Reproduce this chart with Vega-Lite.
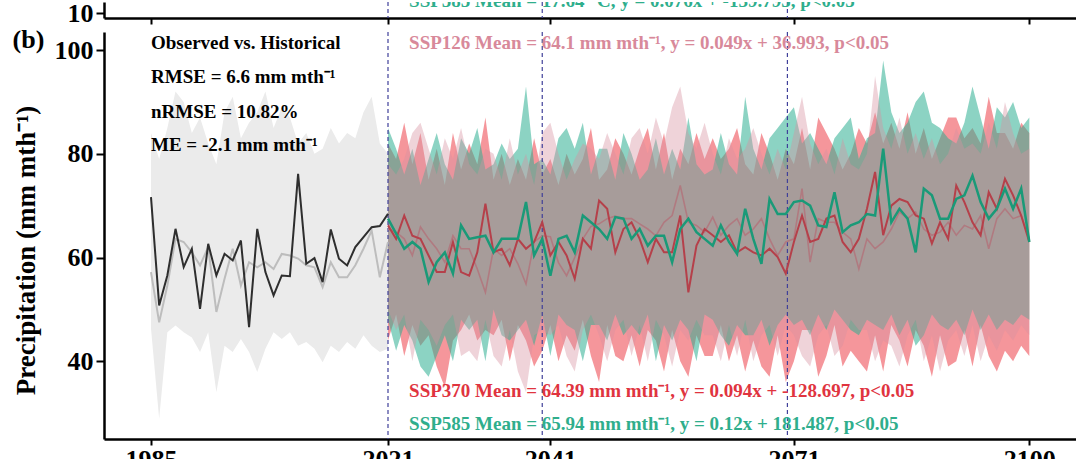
{
  "$schema": "https://vega.github.io/schema/vega-lite/v6.json",
  "background": "white",
  "padding": {"left": 12, "top": 0, "right": 0, "bottom": 0},
  "bounds": "flush",
  "spacing": 14,
  "config": {
    "font": "Liberation Serif",
    "view": {"stroke": null},
    "axis": {
      "grid": false,
      "domainColor": "black",
      "domainWidth": 2.5,
      "tickColor": "black",
      "tickWidth": 2,
      "labelColor": "black",
      "labelFont": "Liberation Serif",
      "labelFontWeight": "bold",
      "labelFontSize": 26,
      "labelOverlap": false,
      "labelFlush": false,
      "titleFont": "Liberation Serif",
      "titleFontWeight": "bold",
      "titleColor": "black"
    }
  },
  "datasets": {
    "breaks": [{"year": 2021}, {"year": 2040}, {"year": 2070.2}],
    "hist": [
      {"year": 1985, "obs": 71.65, "hist": 57.2, "lo": 46.3, "hi": 84},
      {"year": 1986, "obs": 50.76, "hist": 47.5, "lo": 28.9, "hi": 79},
      {"year": 1987, "obs": 56.54, "hist": 54.6, "lo": 45.6, "hi": 85},
      {"year": 1988, "obs": 65.54, "hist": 63.6, "lo": 46.9, "hi": 92},
      {"year": 1989, "obs": 58.15, "hist": 63.0, "lo": 45.6, "hi": 90},
      {"year": 1990, "obs": 61.69, "hist": 61.0, "lo": 44.6, "hi": 84},
      {"year": 1991, "obs": 50.12, "hist": 58.5, "lo": 41.8, "hi": 87},
      {"year": 1992, "obs": 62.65, "hist": 62.0, "lo": 45.6, "hi": 82},
      {"year": 1993, "obs": 56.54, "hist": 49.5, "lo": 34.0, "hi": 78},
      {"year": 1994, "obs": 60.72, "hist": 55.9, "lo": 43.0, "hi": 88},
      {"year": 1995, "obs": 59.44, "hist": 61.7, "lo": 41.8, "hi": 91},
      {"year": 1996, "obs": 63.29, "hist": 54.6, "lo": 44.3, "hi": 83},
      {"year": 1997, "obs": 46.58, "hist": 59.1, "lo": 41.8, "hi": 86},
      {"year": 1998, "obs": 65.54, "hist": 58.1, "lo": 37.9, "hi": 88},
      {"year": 1999, "obs": 57.19, "hist": 59.1, "lo": 42.4, "hi": 92},
      {"year": 2000, "obs": 52.69, "hist": 57.8, "lo": 45.6, "hi": 85},
      {"year": 2001, "obs": 56.54, "hist": 60.7, "lo": 44.3, "hi": 89},
      {"year": 2002, "obs": 56.41, "hist": 60.4, "lo": 45.6, "hi": 87},
      {"year": 2003, "obs": 76.15, "hist": 59.8, "lo": 43.0, "hi": 82},
      {"year": 2004, "obs": 58.79, "hist": 58.5, "lo": 43.7, "hi": 84},
      {"year": 2005, "obs": 59.89, "hist": 58.1, "lo": 42.4, "hi": 80},
      {"year": 2006, "obs": 55.26, "hist": 54.3, "lo": 39.8, "hi": 81},
      {"year": 2007, "obs": 65.41, "hist": 59.1, "lo": 43.0, "hi": 85},
      {"year": 2008, "obs": 59.76, "hist": 56.2, "lo": 41.8, "hi": 82},
      {"year": 2009, "obs": 58.47, "hist": 56.2, "lo": 43.7, "hi": 84},
      {"year": 2010, "obs": 62.01, "hist": 58.5, "lo": 42.4, "hi": 83},
      {"year": 2011, "obs": 63.94, "hist": 61.7, "lo": 45.0, "hi": 88},
      {"year": 2012, "obs": 65.86, "hist": 65.2, "lo": 43.0, "hi": 91},
      {"year": 2013, "obs": 66.06, "hist": 56.2, "lo": 41.8, "hi": 82},
      {"year": 2014, "obs": 68.44, "hist": 63.0, "lo": 42.4, "hi": 80}
    ],
    "fut": [
      {"year":2021,"m126":65.5,"m370":66.2,"m585":67.5,"lo126":50,"hi126":78,"lo370":44,"hi370":82,"lo585":48,"hi585":85},
      {"year":2022,"m126":64.9,"m370":63.6,"m585":64.6,"lo126":46,"hi126":76,"lo370":49,"hi370":79,"lo585":42,"hi585":81},
      {"year":2023,"m126":63.6,"m370":68.1,"m585":61.7,"lo126":49,"hi126":79,"lo370":41,"hi370":86,"lo585":47,"hi585":76},
      {"year":2024,"m126":60.4,"m370":64.2,"m585":63.0,"lo126":40,"hi126":84,"lo370":47,"hi370":78,"lo585":44,"hi585":81},
      {"year":2025,"m126":65.9,"m370":63.6,"m585":61.7,"lo126":48,"hi126":86,"lo370":43,"hi370":84,"lo585":39,"hi585":74},
      {"year":2026,"m126":63.6,"m370":60.4,"m585":55.3,"lo126":46,"hi126":81,"lo370":45,"hi370":75,"lo585":37,"hi585":79},
      {"year":2027,"m126":61.7,"m370":57.2,"m585":59.1,"lo126":43,"hi126":76,"lo370":39,"hi370":81,"lo585":41,"hi585":84},
      {"year":2028,"m126":59.1,"m370":57.2,"m585":61.0,"lo126":47,"hi126":83,"lo370":35,"hi370":74,"lo585":45,"hi585":78},
      {"year":2029,"m126":64.2,"m370":63.0,"m585":56.9,"lo126":49,"hi126":79,"lo370":44,"hi370":84,"lo585":40,"hi585":75},
      {"year":2030,"m126":61.7,"m370":57.2,"m585":66.2,"lo126":41,"hi126":85,"lo370":46,"hi370":77,"lo585":48,"hi585":83},
      {"year":2031,"m126":61.7,"m370":56.5,"m585":63.6,"lo126":42,"hi126":78,"lo370":49,"hi370":82,"lo585":46,"hi585":80},
      {"year":2032,"m126":57.8,"m370":61.0,"m585":63.9,"lo126":40,"hi126":76,"lo370":44,"hi370":78,"lo585":48,"hi585":85},
      {"year":2033,"m126":53.3,"m370":70.4,"m585":64.2,"lo126":48,"hi126":81,"lo370":46,"hi370":87,"lo585":40,"hi585":77},
      {"year":2034,"m126":61.7,"m370":61.0,"m585":61.0,"lo126":41,"hi126":80,"lo370":45,"hi370":75,"lo585":50,"hi585":78},
      {"year":2035,"m126":60.4,"m370":61.7,"m585":63.6,"lo126":39,"hi126":75,"lo370":48,"hi370":80,"lo585":45,"hi585":82},
      {"year":2036,"m126":61.7,"m370":58.5,"m585":63.6,"lo126":46,"hi126":83,"lo370":40,"hi370":74,"lo585":44,"hi585":79},
      {"year":2037,"m126":58.8,"m370":63.6,"m585":63.6,"lo126":38,"hi126":76,"lo370":47,"hi370":79,"lo585":46,"hi585":81},
      {"year":2038,"m126":54.9,"m370":61.7,"m585":70.7,"lo126":34,"hi126":80,"lo370":44,"hi370":75,"lo585":48,"hi585":93},
      {"year":2039,"m126":63.0,"m370":63.0,"m585":60.4,"lo126":45,"hi126":74,"lo370":39,"hi370":83,"lo585":43,"hi585":78},
      {"year":2040,"m126":64.2,"m370":66.8,"m585":63.6,"lo126":46,"hi126":84,"lo370":42,"hi370":76,"lo585":49,"hi585":79},
      {"year":2041,"m126":64.0,"m370":60.4,"m585":56.5,"lo126":45,"hi126":86,"lo370":47,"hi370":79,"lo585":41,"hi585":76},
      {"year":2042,"m126":59.0,"m370":63.0,"m585":63.6,"lo126":47,"hi126":80,"lo370":40,"hi370":74,"lo585":49,"hi585":83},
      {"year":2043,"m126":56.5,"m370":60.4,"m585":64.2,"lo126":41,"hi126":75,"lo370":45,"hi370":80,"lo585":47,"hi585":85},
      {"year":2044,"m126":60.0,"m370":55.9,"m585":61.0,"lo126":38,"hi126":79,"lo370":42,"hi370":76,"lo585":46,"hi585":81},
      {"year":2045,"m126":63.6,"m370":63.6,"m585":68.1,"lo126":46,"hi126":82,"lo370":48,"hi370":79,"lo585":40,"hi585":86},
      {"year":2046,"m126":66.0,"m370":61.7,"m585":66.8,"lo126":49,"hi126":81,"lo370":41,"hi370":85,"lo585":47,"hi585":76},
      {"year":2047,"m126":66.5,"m370":71.0,"m585":65.5,"lo126":45,"hi126":79,"lo370":36,"hi370":75,"lo585":47,"hi585":81},
      {"year":2048,"m126":67.5,"m370":69.4,"m585":63.6,"lo126":40,"hi126":84,"lo370":47,"hi370":77,"lo585":44,"hi585":81},
      {"year":2049,"m126":68.0,"m370":61.0,"m585":67.8,"lo126":46,"hi126":80,"lo370":41,"hi370":83,"lo585":49,"hi585":75},
      {"year":2050,"m126":67.5,"m370":65.5,"m585":67.5,"lo126":48,"hi126":76,"lo370":40,"hi370":80,"lo585":45,"hi585":84},
      {"year":2051,"m126":67.5,"m370":66.8,"m585":63.6,"lo126":41,"hi126":83,"lo370":45,"hi370":76,"lo585":47,"hi585":80},
      {"year":2052,"m126":66.5,"m370":63.6,"m585":65.5,"lo126":47,"hi126":85,"lo370":39,"hi370":81,"lo585":45,"hi585":75},
      {"year":2053,"m126":65.5,"m370":59.1,"m585":62.3,"lo126":40,"hi126":80,"lo370":46,"hi370":85,"lo585":49,"hi585":77},
      {"year":2054,"m126":64.2,"m370":63.6,"m585":64.2,"lo126":48,"hi126":87,"lo370":44,"hi370":77,"lo585":40,"hi585":83},
      {"year":2055,"m126":66.8,"m370":61.0,"m585":64.2,"lo126":45,"hi126":82,"lo370":38,"hi370":84,"lo585":47,"hi585":76},
      {"year":2056,"m126":68.1,"m370":61.0,"m585":59.1,"lo126":39,"hi126":89,"lo370":46,"hi370":75,"lo585":44,"hi585":81},
      {"year":2057,"m126":73.9,"m370":68.1,"m585":65.5,"lo126":46,"hi126":93,"lo370":40,"hi370":81,"lo585":48,"hi585":77},
      {"year":2058,"m126":66.8,"m370":53.3,"m585":67.5,"lo126":44,"hi126":84,"lo370":37,"hi370":78,"lo585":46,"hi585":87},
      {"year":2059,"m126":66.2,"m370":62.3,"m585":64.9,"lo126":48,"hi126":81,"lo370":45,"hi370":84,"lo585":40,"hi585":78},
      {"year":2060,"m126":64.9,"m370":65.5,"m585":63.6,"lo126":45,"hi126":86,"lo370":41,"hi370":79,"lo585":49,"hi585":76},
      {"year":2061,"m126":67.8,"m370":64.3,"m585":62.3,"lo126":45,"hi126":80,"lo370":41,"hi370":83,"lo585":48,"hi585":77},
      {"year":2062,"m126":64.3,"m370":63.0,"m585":66.2,"lo126":40,"hi126":76,"lo370":47,"hi370":79,"lo585":45,"hi585":84},
      {"year":2063,"m126":66.2,"m370":64.3,"m585":63.0,"lo126":47,"hi126":83,"lo370":40,"hi370":81,"lo585":43,"hi585":78},
      {"year":2064,"m126":67.5,"m370":61.0,"m585":60.7,"lo126":41,"hi126":79,"lo370":45,"hi370":85,"lo585":47,"hi585":76},
      {"year":2065,"m126":64.3,"m370":62.0,"m585":69.4,"lo126":48,"hi126":81,"lo370":38,"hi370":78,"lo585":45,"hi585":91},
      {"year":2066,"m126":65.5,"m370":61.0,"m585":63.6,"lo126":40,"hi126":85,"lo370":44,"hi370":76,"lo585":45,"hi585":81},
      {"year":2067,"m126":67.5,"m370":60.4,"m585":58.8,"lo126":45,"hi126":80,"lo370":39,"hi370":84,"lo585":48,"hi585":77},
      {"year":2068,"m126":63.6,"m370":61.7,"m585":71.3,"lo126":47,"hi126":76,"lo370":37,"hi370":80,"lo585":43,"hi585":83},
      {"year":2069,"m126":60.4,"m370":60.1,"m585":68.4,"lo126":41,"hi126":81,"lo370":45,"hi370":75,"lo585":47,"hi585":85},
      {"year":2070,"m126":63.0,"m370":56.9,"m585":68.4,"lo126":47,"hi126":77,"lo370":36,"hi370":81,"lo585":49,"hi585":87},
      {"year":2071,"m126":63.6,"m370":63.0,"m585":70.7,"lo126":45,"hi126":84,"lo370":40,"hi370":78,"lo585":47,"hi585":89},
      {"year":2072,"m126":73.3,"m370":68.1,"m585":71.0,"lo126":41,"hi126":91,"lo370":46,"hi370":85,"lo585":48,"hi585":82},
      {"year":2073,"m126":59.1,"m370":63.0,"m585":70.0,"lo126":39,"hi126":82,"lo370":46,"hi370":77,"lo585":45,"hi585":84},
      {"year":2074,"m126":67.5,"m370":63.6,"m585":66.2,"lo126":45,"hi126":78,"lo370":37,"hi370":87,"lo585":49,"hi585":81},
      {"year":2075,"m126":66.8,"m370":67.5,"m585":65.9,"lo126":47,"hi126":81,"lo370":41,"hi370":84,"lo585":46,"hi585":78},
      {"year":2076,"m126":66.8,"m370":68.1,"m585":72.6,"lo126":41,"hi126":76,"lo370":47,"hi370":81,"lo585":50,"hi585":83},
      {"year":2077,"m126":64.9,"m370":63.0,"m585":64.9,"lo126":43,"hi126":83,"lo370":39,"hi370":77,"lo585":48,"hi585":85},
      {"year":2078,"m126":63.6,"m370":61.0,"m585":66.2,"lo126":48,"hi126":78,"lo370":42,"hi370":80,"lo585":46,"hi585":87},
      {"year":2079,"m126":57.8,"m370":63.6,"m585":66.8,"lo126":46,"hi126":77,"lo370":40,"hi370":85,"lo585":45,"hi585":79},
      {"year":2080,"m126":63.6,"m370":69.4,"m585":68.4,"lo126":46,"hi126":80,"lo370":38,"hi370":82,"lo585":48,"hi585":83},
      {"year":2081,"m126":61.7,"m370":76.5,"m585":68.1,"lo126":40,"hi126":95,"lo370":45,"hi370":88,"lo585":47,"hi585":84},
      {"year":2082,"m126":63.0,"m370":64.3,"m585":81.0,"lo126":44,"hi126":85,"lo370":38,"hi370":82,"lo585":46,"hi585":98},
      {"year":2083,"m126":65.5,"m370":70.0,"m585":66.8,"lo126":43,"hi126":81,"lo370":47,"hi370":86,"lo585":49,"hi585":88},
      {"year":2084,"m126":68.8,"m370":71.3,"m585":69.4,"lo126":39,"hi126":87,"lo370":44,"hi370":81,"lo585":45,"hi585":84},
      {"year":2085,"m126":67.5,"m370":70.7,"m585":67.5,"lo126":45,"hi126":80,"lo370":39,"hi370":88,"lo585":48,"hi585":86},
      {"year":2086,"m126":68.8,"m370":68.1,"m585":61.0,"lo126":48,"hi126":84,"lo370":46,"hi370":80,"lo585":43,"hi585":90},
      {"year":2087,"m126":65.5,"m370":67.5,"m585":73.3,"lo126":40,"hi126":79,"lo370":43,"hi370":85,"lo585":45,"hi585":92},
      {"year":2088,"m126":64.3,"m370":62.7,"m585":72.0,"lo126":45,"hi126":83,"lo370":37,"hi370":79,"lo585":49,"hi585":86},
      {"year":2089,"m126":64.9,"m370":66.8,"m585":67.5,"lo126":38,"hi126":78,"lo370":45,"hi370":83,"lo585":47,"hi585":85},
      {"year":2090,"m126":66.8,"m370":63.6,"m585":67.5,"lo126":44,"hi126":80,"lo370":39,"hi370":87,"lo585":46,"hi585":83},
      {"year":2091,"m126":64.3,"m370":73.9,"m585":71.3,"lo126":46,"hi126":85,"lo370":40,"hi370":87,"lo585":48,"hi585":82},
      {"year":2092,"m126":66.2,"m370":70.7,"m585":72.0,"lo126":41,"hi126":81,"lo370":46,"hi370":83,"lo585":45,"hi585":86},
      {"year":2093,"m126":65.5,"m370":66.8,"m585":75.8,"lo126":47,"hi126":82,"lo370":39,"hi370":85,"lo585":50,"hi585":93},
      {"year":2094,"m126":68.1,"m370":64.3,"m585":70.7,"lo126":40,"hi126":80,"lo370":47,"hi370":82,"lo585":46,"hi585":87},
      {"year":2095,"m126":61.7,"m370":72.6,"m585":67.5,"lo126":45,"hi126":86,"lo370":41,"hi370":91,"lo585":49,"hi585":81},
      {"year":2096,"m126":67.5,"m370":69.4,"m585":69.4,"lo126":42,"hi126":81,"lo370":38,"hi370":84,"lo585":46,"hi585":89},
      {"year":2097,"m126":69.4,"m370":75.2,"m585":73.3,"lo126":46,"hi126":90,"lo370":42,"hi370":84,"lo585":48,"hi585":87},
      {"year":2098,"m126":67.5,"m370":72.0,"m585":69.4,"lo126":44,"hi126":84,"lo370":40,"hi370":81,"lo585":47,"hi585":90},
      {"year":2099,"m126":68.1,"m370":68.1,"m585":73.3,"lo126":47,"hi126":80,"lo370":43,"hi370":86,"lo585":49,"hi585":85},
      {"year":2100,"m126":63.6,"m370":63.0,"m585":63.0,"lo126":45,"hi126":81,"lo370":41,"hi370":84,"lo585":48,"hi585":87}
    ],
    "notes": [
      {"year": 1985, "value": 101.35, "label": "Observed vs. Historical", "grp": "obs"},
      {"year": 1985, "value": 94.8, "label": "RMSE = 6.6 mm mth⁻¹", "grp": "obs"},
      {"year": 1985, "value": 88.0, "label": "nRMSE = 10.82%", "grp": "obs"},
      {"year": 1985, "value": 81.7, "label": "ME = -2.1 mm mth⁻¹", "grp": "obs"},
      {"year": 2023.6, "value": 101.35, "label": "SSP126 Mean = 64.1 mm mth⁻¹, y = 0.049x + 36.993, p<0.05", "grp": "SSP126"},
      {"year": 2023.6, "value": 34.2, "label": "SSP370 Mean = 64.39 mm mth⁻¹, y = 0.094x + -128.697, p<0.05", "grp": "SSP370"},
      {"year": 2023.6, "value": 27.9, "label": "SSP585 Mean = 65.94 mm mth⁻¹, y = 0.12x + 181.487, p<0.05", "grp": "SSP585"}
    ]
  },
  "vconcat": [
    {
      "width": 972,
      "height": 16,
      "layer": [
        {
          "data": {"name": "breaks"},
          "mark": {"type": "rule", "color": "#40409a", "strokeDash": [4, 3], "strokeWidth": 1.2},
          "encoding": {
            "x": {"field": "year", "type": "quantitative",
              "scale": {"domain": [1979.25, 2014, 2021, 2105.75], "range": [0, 284, 284, 972], "nice": false, "zero": false},
              "axis": {"values": [1985, 2021, 2041, 2071, 2100], "labels": false, "title": null, "tickSize": 6}}
          }
        },
        {
          "data": {"values": [{"year": 2023.6, "value": 10.6, "label": "SSP585 Mean = 17.64 °C, y = 0.076x + -139.795, p<0.05"}]},
          "mark": {"type": "text", "clip": true, "align": "left", "baseline": "alphabetic", "fontSize": 19, "fontWeight": "bold", "color": "#2fae8c", "font": "Liberation Serif"},
          "encoding": {
            "x": {"field": "year", "type": "quantitative"},
            "y": {"field": "value", "type": "quantitative",
              "scale": {"domain": [9.5, 11.1], "nice": false, "zero": false},
              "axis": {"values": [10], "title": null, "tickSize": 8, "labelPadding": 3}},
            "text": {"field": "label"}
          }
        }
      ]
    },
    {
      "width": 972,
      "height": 407,
      "layer": [
        {
          "data": {"name": "hist"},
          "mark": {"type": "area", "color": "#ebebeb", "opacity": 1},
          "encoding": {
            "x": {"field": "year", "type": "quantitative",
              "scale": {"domain": [1979.25, 2014, 2021, 2105.75], "range": [0, 284, 284, 972], "nice": false, "zero": false},
              "axis": {"values": [1985, 2021, 2041, 2071, 2100], "format": "d", "title": null, "tickSize": 6, "labelPadding": 1}},
            "y": {"field": "lo", "type": "quantitative",
              "scale": {"domain": [25, 103.5], "nice": false, "zero": false},
              "axis": {"values": [40, 60, 80, 100], "title": "Precipitation (mm mth⁻¹)", "titleFontSize": 27, "titleX": -78, "titleY": 218, "titleBaseline": "middle", "tickSize": 8, "labelPadding": 3}},
            "y2": {"field": "hi"}
          }
        },
        {
          "data": {"name": "fut"},
          "mark": {"type": "area", "color": "#eb2d37", "opacity": 0.5},
          "encoding": {"x": {"field": "year", "type": "quantitative"}, "y": {"field": "lo370", "type": "quantitative"}, "y2": {"field": "hi370"}}
        },
        {
          "data": {"name": "fut"},
          "mark": {"type": "area", "color": "#2daf91", "opacity": 0.55},
          "encoding": {"x": {"field": "year", "type": "quantitative"}, "y": {"field": "lo585", "type": "quantitative"}, "y2": {"field": "hi585"}}
        },
        {
          "data": {"name": "fut"},
          "mark": {"type": "area", "color": "#d791a1", "opacity": 0.4},
          "encoding": {"x": {"field": "year", "type": "quantitative"}, "y": {"field": "lo126", "type": "quantitative"}, "y2": {"field": "hi126"}}
        },
        {
          "data": {"name": "breaks"},
          "mark": {"type": "rule", "color": "#40409a", "strokeDash": [4, 3], "strokeWidth": 1.2},
          "encoding": {"x": {"field": "year", "type": "quantitative"}}
        },
        {
          "data": {"name": "hist"},
          "mark": {"type": "line", "color": "#bdbdbd", "strokeWidth": 2},
          "encoding": {"x": {"field": "year", "type": "quantitative"}, "y": {"field": "hist", "type": "quantitative"}}
        },
        {
          "data": {"name": "hist"},
          "mark": {"type": "line", "color": "#2e2e2e", "strokeWidth": 2},
          "encoding": {"x": {"field": "year", "type": "quantitative"}, "y": {"field": "obs", "type": "quantitative"}}
        },
        {
          "data": {"name": "fut"},
          "mark": {"type": "line", "color": "#b07a80", "strokeWidth": 1.6},
          "encoding": {"x": {"field": "year", "type": "quantitative"}, "y": {"field": "m126", "type": "quantitative"}}
        },
        {
          "data": {"name": "fut"},
          "mark": {"type": "line", "color": "#b5404a", "strokeWidth": 2},
          "encoding": {"x": {"field": "year", "type": "quantitative"}, "y": {"field": "m370", "type": "quantitative"}}
        },
        {
          "data": {"name": "fut"},
          "mark": {"type": "line", "color": "#1a9a78", "strokeWidth": 2.5},
          "encoding": {"x": {"field": "year", "type": "quantitative"}, "y": {"field": "m585", "type": "quantitative"}}
        },
        {
          "data": {"name": "notes"},
          "mark": {"type": "text", "align": "left", "baseline": "middle", "fontSize": 19, "fontWeight": "bold", "font": "Liberation Serif"},
          "encoding": {
            "x": {"field": "year", "type": "quantitative"},
            "y": {"field": "value", "type": "quantitative"},
            "text": {"field": "label"},
            "color": {"field": "grp", "type": "nominal", "legend": null,
              "scale": {"domain": ["obs", "SSP126", "SSP370", "SSP585"], "range": ["#000000", "#d8899a", "#e0343f", "#2fae8c"]}}
          }
        },
        {
          "data": {"values": [{"year": 1970.0, "value": 101.9, "label": "(b)"}]},
          "mark": {"type": "text", "align": "center", "baseline": "middle", "fontSize": 26, "fontWeight": "bold", "font": "Liberation Serif", "color": "black"},
          "encoding": {
            "x": {"field": "year", "type": "quantitative"},
            "y": {"field": "value", "type": "quantitative"},
            "text": {"field": "label"}
          }
        }
      ]
    }
  ]
}
